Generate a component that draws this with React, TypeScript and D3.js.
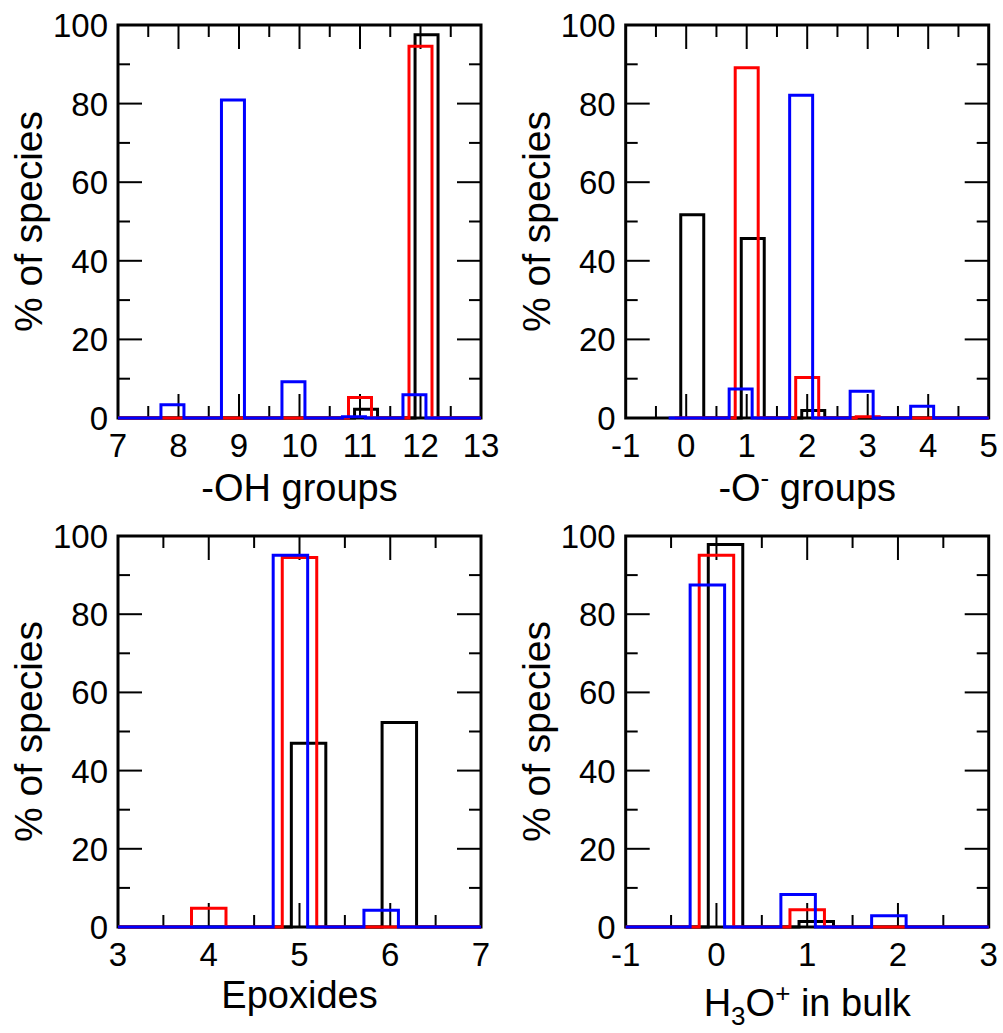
import * as d3 from 'd3';
import { useEffect, useRef } from 'react';

// -OH groups panel
const ohX = [7, 8, 9, 10, 11, 12, 13];
const ohBlack = [0, 0, 0, 0, 2.2, 97.5, 0];
const ohRed = [0, 0, 0, 0, 5.2, 94.6, 0];
const ohBlue = [0, 3.4, 80.9, 9.2, 0.3, 5.9, 0];

// -O- groups panel
const oX = [0, 1, 2, 3, 4, 5];
const oBlack = [51.7, 45.7, 1.9, 0, 0, 0];
const oRed = [0, 89.1, 10.3, 0.3, 0, 0];
const oBlue = [0, 7.4, 82.1, 6.8, 3.0, 0];

// Epoxides panel
const epX = [3, 4, 5, 6, 7];
const epBlack = [0, 0, 47.0, 52.3, 0];
const epRed = [0, 4.8, 94.5, 0, 0];
const epBlue = [0, 0, 95.1, 4.3, 0];

// H3O+ in bulk panel
const h3oX = [-1, 0, 1, 2, 3];
const h3oBlack = [0, 97.8, 1.4, 0, 0];
const h3oRed = [0, 95.1, 4.4, 0, 0];
const h3oBlue = [0, 87.5, 8.3, 2.9, 0];

const yTicks = [0, 20, 40, 60, 80, 100];

const FONT = '"Liberation Sans", Arial, Helvetica, sans-serif';

const panels = [
  { id: 'oh', left: 118, top: 25, height: 393, labelY: 501, domain: [7, 13], xs: ohX, black: ohBlack, red: ohRed, blue: ohBlue, label: [{ t: '-OH groups' }] },
  { id: 'o', left: 625.7, top: 25, height: 393, labelY: 501, domain: [-1, 5], xs: oX, black: oBlack, red: oRed, blue: oBlue, label: [{ t: '-O' }, { t: '-', sup: true }, { t: ' groups' }] },
  { id: 'ep', left: 118, top: 536, height: 391, labelY: 1008, domain: [3, 7], xs: epX, black: epBlack, red: epRed, blue: epBlue, label: [{ t: 'Epoxides' }] },
  { id: 'h3o', left: 625.7, top: 536, height: 391, labelY: 1016, domain: [-1, 3], xs: h3oX, black: h3oBlack, red: h3oRed, blue: h3oBlue, label: [{ t: 'H' }, { t: '3', sub: true }, { t: 'O' }, { t: '+', sup: true }, { t: ' in bulk' }] },
];

export default function App() {
  const ref = useRef(null);

  useEffect(() => {
    const svg = d3.select(ref.current);
    svg.selectAll('*').remove();

    const width = 363;
    const barW = 0.38;
    const offsets = { black: 0.1, red: 0, blue: -0.1 };
    const colors = { black: '#000000', red: '#ff0000', blue: '#0000ff' };

    panels.forEach((p) => {
      const bottom = p.top + p.height;
      const x = d3.scaleLinear().domain(p.domain).range([p.left, p.left + width]);
      const y = d3.scaleLinear().domain([0, 100]).range([bottom, p.top]);
      const g = svg.append('g');

      // frame
      g.append('rect')
        .attr('x', p.left)
        .attr('y', p.top)
        .attr('width', width)
        .attr('height', p.height)
        .attr('fill', 'none')
        .attr('stroke', '#000')
        .attr('stroke-width', 3);

      // x ticks, major on integers, minor on halves
      const xMajor = d3.range(p.domain[0], p.domain[1] + 0.001, 1);
      const xMinor = d3.range(p.domain[0] + 0.5, p.domain[1], 1);
      const tickLines = [];
      xMajor.slice(1, -1).forEach((v) => {
        tickLines.push([x(v), bottom, x(v), bottom - 24]);
        tickLines.push([x(v), p.top, x(v), p.top + 24]);
      });
      xMinor.forEach((v) => {
        tickLines.push([x(v), bottom, x(v), bottom - 12]);
        tickLines.push([x(v), p.top, x(v), p.top + 12]);
      });
      yTicks.slice(1, -1).forEach((v) => {
        tickLines.push([p.left, y(v), p.left + 24, y(v)]);
        tickLines.push([p.left + width, y(v), p.left + width - 24, y(v)]);
      });
      d3.range(10, 100, 20).forEach((v) => {
        tickLines.push([p.left, y(v), p.left + 12, y(v)]);
        tickLines.push([p.left + width, y(v), p.left + width - 12, y(v)]);
      });
      g.append('g')
        .selectAll('line')
        .data(tickLines)
        .enter()
        .append('line')
        .attr('x1', (d) => d[0])
        .attr('y1', (d) => d[1])
        .attr('x2', (d) => d[2])
        .attr('y2', (d) => d[3])
        .attr('stroke', '#000')
        .attr('stroke-width', 2);

      // tick labels
      g.append('g')
        .selectAll('text')
        .data(xMajor)
        .enter()
        .append('text')
        .attr('x', (d) => x(d))
        .attr('y', bottom + 39)
        .attr('text-anchor', 'middle')
        .style('font-family', FONT)
        .style('font-size', '33px')
        .text((d) => String(d));

      g.append('g')
        .selectAll('text')
        .data(yTicks)
        .enter()
        .append('text')
        .attr('x', p.left - 10)
        .attr('y', (d) => y(d) + 12)
        .attr('text-anchor', 'end')
        .style('font-family', FONT)
        .style('font-size', '33px')
        .text((d) => String(d));

      // axis titles
      const xl = g.append('text')
        .attr('x', p.left + width / 2)
        .attr('y', p.labelY)
        .attr('text-anchor', 'middle')
        .style('font-family', FONT)
        .style('font-size', '38px');
      p.label.forEach((part) => {
        const ts = xl.append('tspan').text(part.t);
        if (part.sup) ts.attr('baseline-shift', '55%').style('font-size', '26px');
        if (part.sub) ts.attr('baseline-shift', '-35%').style('font-size', '26px');
      });

      g.append('text')
        .attr('transform', `translate(${p.left - 76},${p.top + p.height / 2}) rotate(-90)`)
        .attr('text-anchor', 'middle')
        .style('font-family', FONT)
        .style('font-size', '39px')
        .text('% of species');

      // histogram outlines
      const clipId = `clip-${p.id}`;
      svg.append('clipPath')
        .attr('id', clipId)
        .append('rect')
        .attr('x', p.left)
        .attr('y', p.top - 5)
        .attr('width', width)
        .attr('height', p.height + 10);

      ['black', 'red', 'blue'].forEach((key) => {
        const values = p[key];
        const off = offsets[key];
        const path = d3.path();
        p.xs.forEach((xv, i) => {
          const l = x(xv + off - barW / 2);
          const r = x(xv + off + barW / 2);
          if (i === 0) path.moveTo(l, y(0));
          else path.lineTo(l, y(0));
          path.lineTo(l, y(values[i]));
          path.lineTo(r, y(values[i]));
          path.lineTo(r, y(0));
        });
        g.append('path')
          .attr('d', path.toString())
          .attr('clip-path', `url(#${clipId})`)
          .attr('fill', 'none')
          .attr('stroke', colors[key])
          .attr('stroke-width', 3)
          .attr('stroke-linejoin', 'miter');
      });
    });
  }, []);

  return (
    <svg
      ref={ref}
      width={1003}
      height={1033}
      style={{ position: 'absolute', left: 0, top: 0, background: '#fff' }}
    />
  );
}
